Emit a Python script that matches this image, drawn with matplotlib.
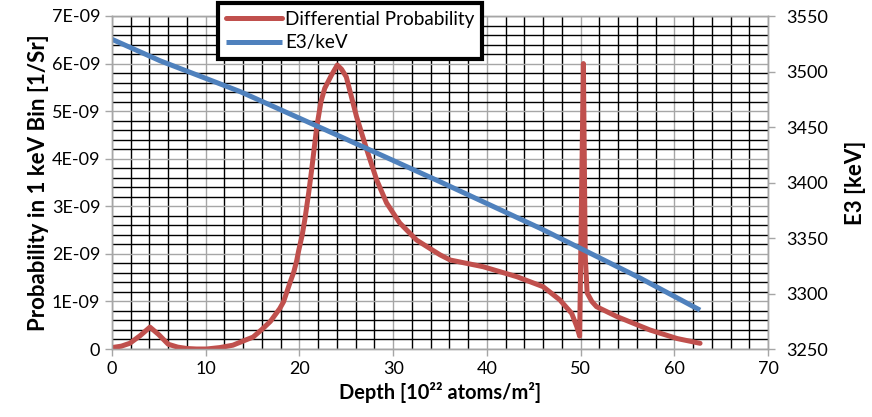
import matplotlib
matplotlib.use("Agg")
import matplotlib.pyplot as plt
from matplotlib.ticker import MultipleLocator, FuncFormatter

plt.rcParams['font.family'] = ['Lato', 'DejaVu Sans']

# Differential probability (left axis, 1/Sr)
depth_prob = [0.0, 1.0, 1.9, 3.0, 4.05, 5.0, 6.0, 7.0, 8.0, 9.0, 10.1, 11.5, 12.9, 14.4,
              15.05, 16.1, 16.9, 17.9, 18.3, 19.0, 19.4, 19.7, 19.9, 20.3, 20.6, 21.0, 21.3,
              21.85, 22.3, 22.7, 23.4, 24.04, 24.5, 25.0, 26.1, 27.2, 28.25, 29.3, 30.7,
              32.5, 35.0, 36.1, 39.6, 43.2, 46.0, 47.8, 49.05, 49.6, 49.9, 50.3, 50.5, 50.7,
              51.2, 51.7, 53.9, 57.4, 60.3, 62.75]
prob = [0.03e-9, 0.06e-9, 0.12e-9, 0.28e-9, 0.46e-9, 0.30e-9, 0.10e-9, 0.04e-9, 0.01e-9,
        0.0, 0.0, 0.03e-9, 0.08e-9, 0.20e-9, 0.25e-9, 0.43e-9, 0.58e-9, 0.85e-9, 0.99e-9,
        1.40e-9, 1.62e-9, 1.85e-9, 2.05e-9, 2.40e-9, 2.75e-9, 3.30e-9, 3.76e-9, 4.67e-9,
        5.20e-9, 5.48e-9, 5.75e-9, 5.97e-9, 5.88e-9, 5.72e-9, 4.88e-9, 4.18e-9, 3.55e-9,
        3.07e-9, 2.65e-9, 2.29e-9, 1.98e-9, 1.87e-9, 1.73e-9, 1.52e-9, 1.31e-9, 1.03e-9,
        0.75e-9, 0.47e-9, 0.27e-9, 6.0e-9, 1.94e-9, 1.18e-9, 1.0e-9, 0.89e-9, 0.68e-9,
        0.40e-9, 0.22e-9, 0.12e-9]

# E3 energy (right axis, keV)
depth_e3 = [0.0, 5.12, 13.7, 24.0, 35.0, 45.7, 56.4, 62.75]
e3 = [3529, 3509.7, 3481.8, 3442.8, 3400.7, 3358.7, 3313.7, 3285]

left_ticks = [0, 1e-9, 2e-9, 3e-9, 4e-9, 5e-9, 6e-9, 7e-9]

fig = plt.figure(figsize=(8.72, 4.17), dpi=100)
ax = fig.add_axes([112/872, 1-349/417, 656/872, 333/417])
ax2 = ax.twinx()

grid_gray = '#a6a6a6'
ax.set_xlim(0, 70)
ax.set_ylim(0, 7e-9)
ax2.set_ylim(3250, 3550)

ax.xaxis.set_major_locator(MultipleLocator(10))
ax.xaxis.set_minor_locator(MultipleLocator(2))
ax.set_yticks(left_ticks)
ax.yaxis.set_minor_locator(MultipleLocator(0.2e-9))
ax.yaxis.set_major_formatter(FuncFormatter(lambda v, p: '0' if abs(v) < 1e-15 else f'{v:.0E}'))
ax2.yaxis.set_major_locator(MultipleLocator(50))

for a in (ax, ax2):
    a.set_axisbelow(True)
    for s in a.spines.values():
        s.set_color(grid_gray)
        s.set_linewidth(1.0)
    a.tick_params(which='major', direction='out', length=5, color=grid_gray, width=1.0,
                  labelsize=13, labelcolor='black')
    a.tick_params(which='minor', length=0)
ax2.tick_params(axis='y', which='major', pad=8)

ax.grid(which='major', axis='both', color=grid_gray, linewidth=1.0)
ax.grid(which='minor', axis='both', color='black', linewidth=1.0)

red, = ax2.plot(depth_prob, prob, color='#c0504d', linewidth=3.6, transform=ax.transData,
                solid_joinstyle='round', solid_capstyle='round', label='Differential Probability')
blue, = ax2.plot(depth_e3, e3, color='#4f81bd', linewidth=3.6,
                 solid_capstyle='butt', label='E3/keV')
ax2.set_ylim(3250, 3550)
ax.set_ylim(0, 7e-9)

ax.set_ylabel('Probability in 1 keV Bin [1/Sr]', fontsize=16, fontweight='bold', labelpad=2)
ax2.set_ylabel('E3 [keV]', fontsize=16, fontweight='bold', labelpad=12)
ax.set_xlabel('Depth [10²² atoms/m²]', fontsize=14.4, fontweight='bold', labelpad=4)

leg = ax2.legend(handles=[red, blue], loc='upper left', bbox_to_anchor=(218/872, 1-3/417),
                 bbox_transform=fig.transFigure, fontsize=13.6, frameon=True, fancybox=False,
                 framealpha=1, edgecolor='black', borderpad=0.4, handlelength=3.0,
                 handletextpad=0.15, labelspacing=0.35, borderaxespad=0)
leg.get_frame().set_linewidth(3)
leg.set_zorder(10)

fig.savefig('out.png', dpi=100)
